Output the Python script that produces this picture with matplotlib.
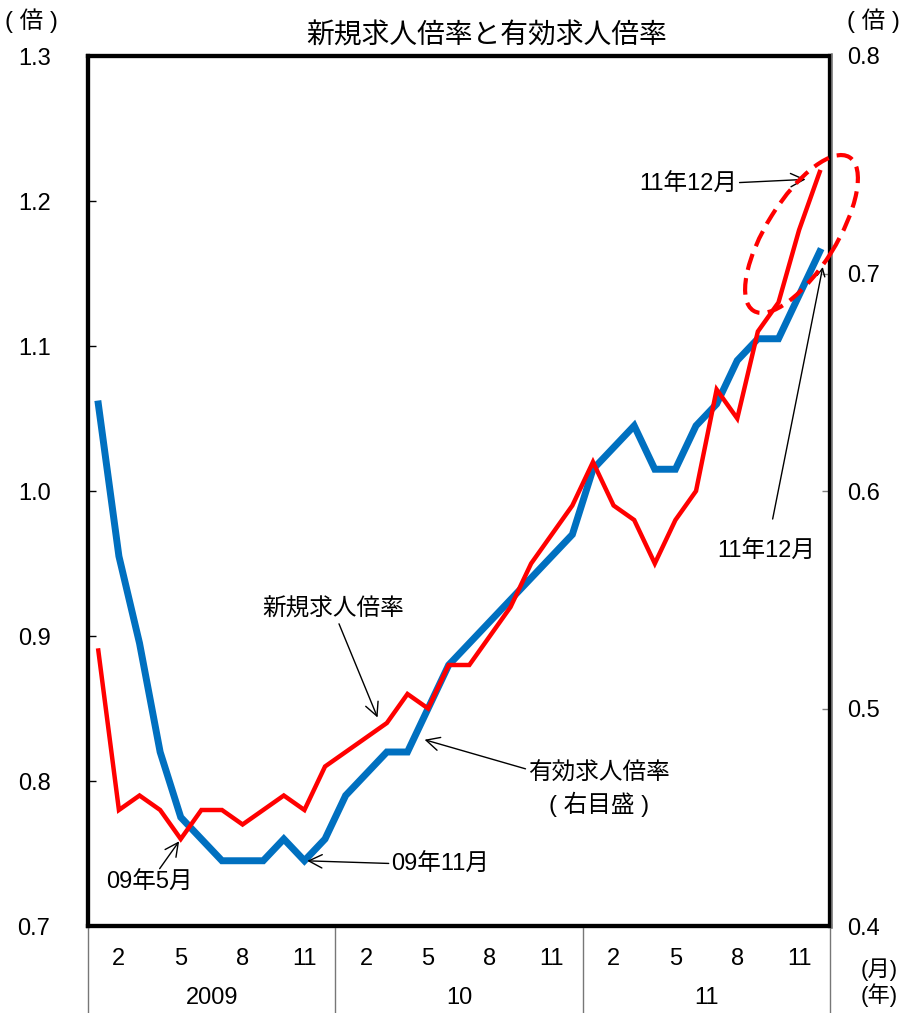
import matplotlib.pyplot as plt
import numpy as np
from matplotlib.patches import Ellipse
from matplotlib.transforms import IdentityTransform

# 데이터 (2009년 1월 ~ 2011년 12월, 월별)
months = np.arange(1, 37)
new_ratio = [0.89, 0.78, 0.79, 0.78, 0.76, 0.78, 0.78, 0.77, 0.78, 0.79, 0.78, 0.81,
             0.82, 0.83, 0.84, 0.86, 0.85, 0.88, 0.88, 0.90, 0.92, 0.95, 0.97, 0.99,
             1.02, 0.99, 0.98, 0.95, 0.98, 1.00, 1.07, 1.05, 1.11, 1.13, 1.18, 1.22]
active_ratio = [0.64, 0.57, 0.53, 0.48, 0.45, 0.44, 0.43, 0.43, 0.43, 0.44, 0.43, 0.44,
                0.46, 0.47, 0.48, 0.48, 0.50, 0.52, 0.53, 0.54, 0.55, 0.56, 0.57, 0.58,
                0.61, 0.62, 0.63, 0.61, 0.61, 0.63, 0.64, 0.66, 0.67, 0.67, 0.69, 0.71]
month_labels = ['2', '5', '8', '11']
year_labels = ['2009', '10', '11']

JP = ['Liberation Sans', 'Noto Sans CJK JP']
plt.rcParams['font.family'] = JP

fig = plt.figure(figsize=(8.99, 10.13), dpi=100)
ax1 = fig.add_axes([88 / 899, 1 - 926 / 1013, 742 / 899, 870 / 1013])
ax2 = ax1.twinx()

red = '#ff0000'
blue = '#0070c0'
fs = 17

ax1.plot(months, new_ratio, color=red, linewidth=3.2, solid_joinstyle='miter', zorder=3)
ax2.plot(months, active_ratio, color=blue, linewidth=5, solid_joinstyle='miter', zorder=2)
ax1.set_zorder(ax2.get_zorder() + 1)
ax1.patch.set_visible(False)

ax1.set_xlim(0.5, 36.5)
ax1.set_ylim(0.7, 1.3)
ax2.set_ylim(0.4, 0.8)
ax1.set_yticks(np.arange(0.7, 1.31, 0.1))
ax2.set_yticks(np.arange(0.4, 0.81, 0.1))
ax1.set_yticklabels([f'{v:.1f}' for v in np.arange(0.7, 1.31, 0.1)], fontsize=fs)
ax2.set_yticklabels([f'{v:.1f}' for v in np.arange(0.4, 0.81, 0.1)], fontsize=fs)
ax1.tick_params(axis='y', direction='in', length=6, width=1, pad=27)
ax2.tick_params(axis='y', direction='in', length=6, width=1, color='gray', pad=12)

# x축: 월 / 년
xt = [m + 12 * y for y in range(3) for m in (2, 5, 8, 11)]
ax1.set_xticks(xt)
ax1.set_xticklabels(month_labels * 3, fontsize=fs)
ax1.tick_params(axis='x', length=0, pad=16)
for i, yl in enumerate(year_labels):
    ax1.text(6.5 + 12 * i, -0.083, yl, transform=ax1.get_xaxis_transform(),
             ha='center', va='center', fontsize=fs)
ax1.vlines([0.5, 12.5, 24.5, 36.5], -0.1, 0, transform=ax1.get_xaxis_transform(),
           color='#777777', linewidth=1, clip_on=False)

for ax in (ax1, ax2):
    for s in ax.spines.values():
        s.set_linewidth(3)
        s.set_color('black')
ax2.spines['right'].set_color('#222222')
fig.patches.append(plt.Line2D([831.5, 831.5], [1013 - 928, 1013 - 54], transform=IdentityTransform(),
                              color='gray', linewidth=1.2))

fig.text(31 / 899, 1 - 21 / 1013, '( 倍 )', ha='center', va='center', fontsize=fs)
fig.text(873 / 899, 1 - 21 / 1013, '( 倍 )', ha='center', va='center', fontsize=fs)
fig.text(879 / 899, 1 - 970 / 1013, '(月)', ha='center', va='center', fontsize=16)
fig.text(879 / 899, 1 - 995 / 1013, '(年)', ha='center', va='center', fontsize=16)
fig.text(487 / 899, 1 - 36 / 1013, '新規求人倍率と有効求人倍率', ha='center', va='center', fontsize=20)

arrow = dict(arrowstyle='->', color='black', linewidth=1, mutation_scale=24, shrinkA=0, shrinkB=2)
ax1.annotate('新規求人倍率', xy=(14.6, 0.842), xytext=(12.4, 0.918),
             ha='center', va='center', fontsize=fs, arrowprops=arrow)
ax2.annotate('有効求人倍率\n( 右目盛 )', xy=(16.7, 0.486), xytext=(25.3, 0.4625),
             ha='center', va='center', fontsize=fs, linespacing=1.35, arrowprops=arrow)
ax1.annotate('09年5月', xy=(5, new_ratio[4]), xytext=(3.5, 0.730),
             ha='center', va='center', fontsize=fs, arrowprops=arrow)
ax2.annotate('09年11月', xy=(11, active_ratio[10]), xytext=(17.6, 0.428),
             ha='center', va='center', fontsize=fs, arrowprops=arrow)
ax1.annotate('11年12月', xy=(35.45, 1.215), xytext=(29.6, 1.211),
             ha='center', va='center', fontsize=fs, arrowprops=arrow)
ax2.annotate('11年12月', xy=(36.15, 0.703), xytext=(33.4, 0.572),
             ha='center', va='center', fontsize=fs,
             arrowprops=dict(arrowstyle='->', color='black', linewidth=1, mutation_scale=14,
                             shrinkA=14, shrinkB=0))

# 빨간 점선 타원
ell = Ellipse((801.5, 1013 - 234), width=181, height=70, angle=58, transform=IdentityTransform(),
              fill=False, edgecolor=red, linewidth=3, linestyle=(0, (4, 2)), zorder=5)
fig.patches.append(ell)

fig.savefig('out.png', dpi=100)
